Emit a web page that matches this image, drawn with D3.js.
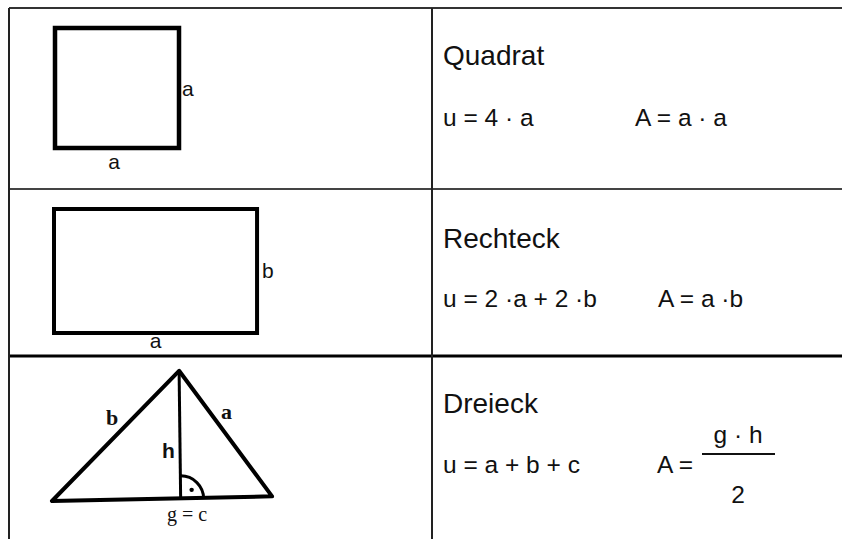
<!DOCTYPE html>
<html>
<head>
<meta charset="utf-8">
<script src="https://cdn.jsdelivr.net/npm/d3@7"></script>
<style>
  body { margin: 0; background: #fff; }
  svg { display: block; }
  text { font-family: "Liberation Sans", Arial, sans-serif; fill: #111; }
  .serif { font-family: "Liberation Serif", "Times New Roman", serif; }
</style>
</head>
<body>
<svg width="842" height="539"></svg>
<script>
// table content
const shapeNames = ['Quadrat', 'Rechteck', 'Dreieck'];
const perimeterFormulas = ['u = 4 · a', 'u = 2 ·a + 2 ·b', 'u = a + b + c'];
const areaFormulas = ['A = a · a', 'A = a ·b', 'A ='];
const triangleFraction = ['g · h', '2'];

// figure geometry in drawing units
const squareSide = [4, 4];          // width, height
const rectSides = [6.55, 4];        // a, b
const trianglePts = [[0, 0], [7.1, 0.15], [4.1, 4.2]]; // left, right, apex
const altitudeFoot = [4.15, 0.07];

const svg = d3.select('svg');
const width = +svg.attr('width');
const height = +svg.attr('height');

const tableLeft = 9;
const colSplit = 432;
const rowTops = [8, 189, 356];

// one px-per-unit scale shared by all figures
const unit = d3.scaleLinear().domain([0, 1]).range([0, 31]);

const g = svg.append('g');

// ---- grid lines
g.append('line')
  .attr('x1', tableLeft).attr('x2', width)
  .attr('y1', rowTops[0]).attr('y2', rowTops[0])
  .attr('stroke', '#333').attr('stroke-width', 2);
g.append('line')
  .attr('x1', tableLeft).attr('x2', width)
  .attr('y1', rowTops[1]).attr('y2', rowTops[1])
  .attr('stroke', '#444').attr('stroke-width', 2);
g.append('line')
  .attr('x1', tableLeft).attr('x2', width)
  .attr('y1', rowTops[2]).attr('y2', rowTops[2])
  .attr('stroke', '#000').attr('stroke-width', 3);
g.append('line')
  .attr('x1', tableLeft).attr('x2', tableLeft)
  .attr('y1', rowTops[0]).attr('y2', height)
  .attr('stroke', '#222').attr('stroke-width', 2);
g.append('line')
  .attr('x1', colSplit).attr('x2', colSplit)
  .attr('y1', rowTops[0]).attr('y2', height)
  .attr('stroke', '#222').attr('stroke-width', 2);

// ---- right column text
const textX = 443;
const titleBase = [65, 248, 413];
const formulaBase = [126, 307, 473];
const areaX = [635, 658, 657];

g.selectAll('text.title')
  .data(shapeNames)
  .enter()
  .append('text')
  .attr('class', 'title')
  .attr('x', textX)
  .attr('y', (d, i) => titleBase[i])
  .attr('font-size', 28)
  .attr('textLength', null)
  .text((d) => d);

g.selectAll('text.perim')
  .data(perimeterFormulas)
  .enter()
  .append('text')
  .attr('class', 'perim')
  .attr('x', textX)
  .attr('y', (d, i) => formulaBase[i])
  .attr('font-size', 24.5)
  .text((d) => d);

g.selectAll('text.area')
  .data(areaFormulas)
  .enter()
  .append('text')
  .attr('class', 'area')
  .attr('x', (d, i) => areaX[i])
  .attr('y', (d, i) => formulaBase[i])
  .attr('font-size', 24.5)
  .text((d) => d);

// fraction g·h / 2
g.append('line')
  .attr('x1', 702).attr('x2', 775)
  .attr('y1', 454).attr('y2', 454)
  .attr('stroke', '#111').attr('stroke-width', 2);
g.selectAll('text.frac')
  .data(triangleFraction)
  .enter()
  .append('text')
  .attr('x', 738)
  .attr('y', (d, i) => (i === 0 ? 443 : 503))
  .attr('text-anchor', 'middle')
  .attr('font-size', 24.5)
  .text((d) => d);

// ---- square
const sq = { x: 55, y: 28 };
g.append('rect')
  .attr('x', sq.x).attr('y', sq.y)
  .attr('width', unit(squareSide[0]))
  .attr('height', unit(squareSide[1]) - 4)
  .attr('fill', 'none').attr('stroke', '#000').attr('stroke-width', 4.5);
g.append('text').attr('x', sq.x + unit(squareSide[0]) + 3).attr('y', 96)
  .attr('font-size', 21).text('a');
g.append('text').attr('x', sq.x + unit(squareSide[0]) / 2 - 3).attr('y', 169)
  .attr('text-anchor', 'middle').attr('font-size', 21).text('a');

// ---- rectangle
const rc = { x: 54, y: 209 };
g.append('rect')
  .attr('x', rc.x).attr('y', rc.y)
  .attr('width', unit(rectSides[0]))
  .attr('height', unit(rectSides[1]))
  .attr('fill', 'none').attr('stroke', '#000').attr('stroke-width', 4);
g.append('text').attr('x', rc.x + unit(rectSides[0]) + 5).attr('y', 278)
  .attr('font-size', 21).text('b');
g.append('text').attr('x', rc.x + unit(rectSides[0]) / 2).attr('y', 348)
  .attr('text-anchor', 'middle').attr('font-size', 21).text('a');

// ---- triangle
const tri = { x: 52, y: 501 };
const tx = (p) => tri.x + unit(p[0]);
const ty = (p) => tri.y - unit(p[1]);
const lineGen = d3.line().x(tx).y(ty);

g.append('path')
  .attr('d', lineGen(trianglePts) + 'Z')
  .attr('fill', 'none').attr('stroke', '#000')
  .attr('stroke-width', 4).attr('stroke-linejoin', 'round');
g.append('line')
  .attr('x1', tx(trianglePts[2])).attr('y1', ty(trianglePts[2]))
  .attr('x2', tx(altitudeFoot)).attr('y2', ty(altitudeFoot))
  .attr('stroke', '#000').attr('stroke-width', 3);

// right-angle mark
const fx = tx(altitudeFoot);
const fy = ty(altitudeFoot);
g.append('path')
  .attr('d', d3.arc()({ innerRadius: 23, outerRadius: 23, startAngle: 0, endAngle: Math.PI / 2 }))
  .attr('transform', `translate(${fx},${fy})`)
  .attr('fill', 'none').attr('stroke', '#000').attr('stroke-width', 3);
g.append('circle')
  .attr('cx', fx + 11).attr('cy', fy - 9).attr('r', 2.2).attr('fill', '#000');

g.append('text').attr('class', 'serif').attr('x', 106).attr('y', 425)
  .attr('font-size', 22).attr('font-weight', 'bold').text('b');
g.append('text').attr('class', 'serif').attr('x', 221).attr('y', 419)
  .attr('font-size', 22).attr('font-weight', 'bold').text('a');
g.append('text').attr('x', 162).attr('y', 458)
  .attr('font-size', 21).attr('font-weight', 'bold').text('h');
g.append('text').attr('class', 'serif').attr('x', 187).attr('y', 521)
  .attr('text-anchor', 'middle').attr('font-size', 20).text('g = c');
</script>
</body>
</html>
